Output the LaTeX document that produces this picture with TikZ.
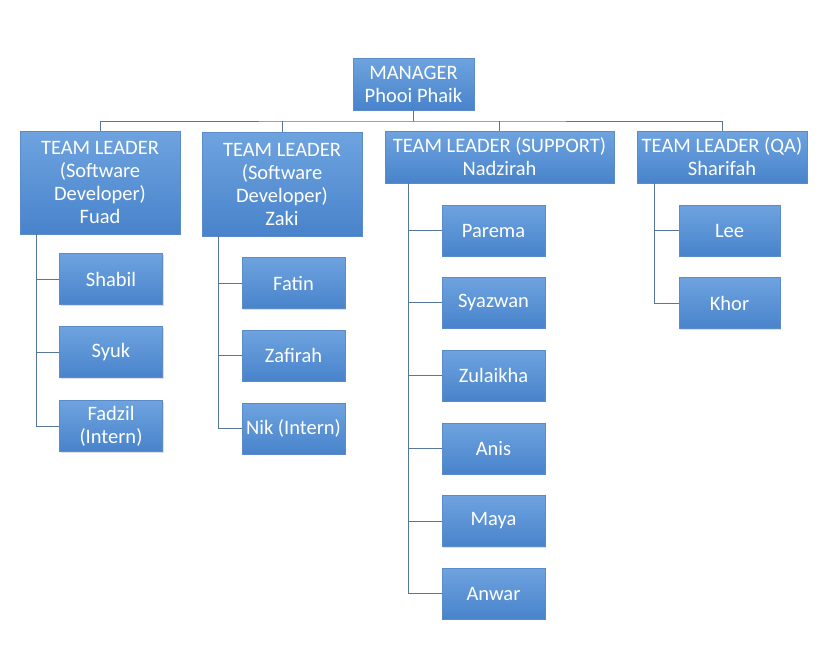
\documentclass[tikz,border=0pt]{standalone}
\usepackage{fontspec}
\setmainfont{Carlito}
\usetikzlibrary{shadows}
\definecolor{ctop}{HTML}{6EA3DF}
\definecolor{cbot}{HTML}{4883CB}
\definecolor{cedge}{HTML}{5B8CC8}
\definecolor{cline}{HTML}{56779C}
\tikzset{
  every picture/.style={font=\fontsize{20.5}{23}\selectfont},
  box/.style={draw=cedge, line width=0.6pt, top color=ctop, bottom color=cbot,
    text=white, align=center, inner sep=2pt,
    drop shadow={shadow xshift=1.2pt, shadow yshift=-1.2pt, opacity=0.25}},
  lead/.style={box, minimum height=52pt},
  staff/.style={box, minimum width=103pt, minimum height=51pt},
  link/.style={draw=cline, line width=1pt},
}
\begin{document}
\begin{tikzpicture}[x=1pt, y=-1pt]
  \useasboundingbox (0,0) rectangle (835,649);
  % manager and team leaders
  \node[box, minimum width=121pt, minimum height=52pt] (mgr) at (413.5,84) {MANAGER\\Phooi Phaik};
  \node[lead, minimum width=160pt, minimum height=103pt] (tl1) at (100,182.5) {TEAM LEADER\\(Software\\Developer)\\Fuad};
  \node[lead, minimum width=160pt, minimum height=104pt] (tl2) at (282,184) {TEAM LEADER\\(Software\\Developer)\\Zaki};
  \node[lead, minimum width=229pt] (tl3) at (499.5,157) {TEAM LEADER (SUPPORT)\\Nadzirah};
  \node[lead, minimum width=170pt] (tl4) at (722,157) {TEAM LEADER (QA)\\Sharifah};
  \coordinate (bus) at (413.5,121);
  % staff
  \node[staff] (shabil) at (111,279) {Shabil};
  \node[staff] (syuk) at (111,352) {Syuk};
  \node[staff] (fadzil) at (111,426) {Fadzil\\(Intern)};
  \node[staff] (fatin) at (293.5,283) {Fatin};
  \node[staff] (zafirah) at (293.5,355.5) {Zafirah};
  \node[staff] (nik) at (293.5,428.5) {Nik (Intern)};
  \node[staff] (parema) at (493.5,230.5) {Parema};
  \node[staff] (syazwan) at (493.5,302.5) {Syazwan};
  \node[staff] (zulaikha) at (493.5,375.5) {Zulaikha};
  \node[staff] (anis) at (493.5,448.5) {Anis};
  \node[staff] (maya) at (493.5,521) {Maya};
  \node[staff] (anwar) at (493.5,593.5) {Anwar};
  \node[staff, minimum width=101pt] (lee) at (729.5,230.5) {Lee};
  \node[staff, minimum width=101pt] (khor) at (729.5,303) {Khor};
  % connectors
  \draw[link] (tl1.north) |- (bus) -| (tl4.north);
  \draw[link] (mgr.south) -- (bus);
  \draw[link] (tl2.north) -- (tl2.north |- bus);
  \draw[link] (tl3.north) -- (tl3.north |- bus);
  \foreach \n in {shabil,syuk,fadzil}
    \draw[link] ([xshift=17pt]tl1.south west) |- (\n.west);
  \foreach \n in {fatin,zafirah,nik}
    \draw[link] ([xshift=17pt]tl2.south west) |- (\n.west);
  \foreach \n in {parema,syazwan,zulaikha,anis,maya,anwar}
    \draw[link] ([xshift=24pt]tl3.south west) |- (\n.west);
  \foreach \n in {lee,khor}
    \draw[link] ([xshift=18pt]tl4.south west) |- (\n.west);
\end{tikzpicture}
\end{document}
